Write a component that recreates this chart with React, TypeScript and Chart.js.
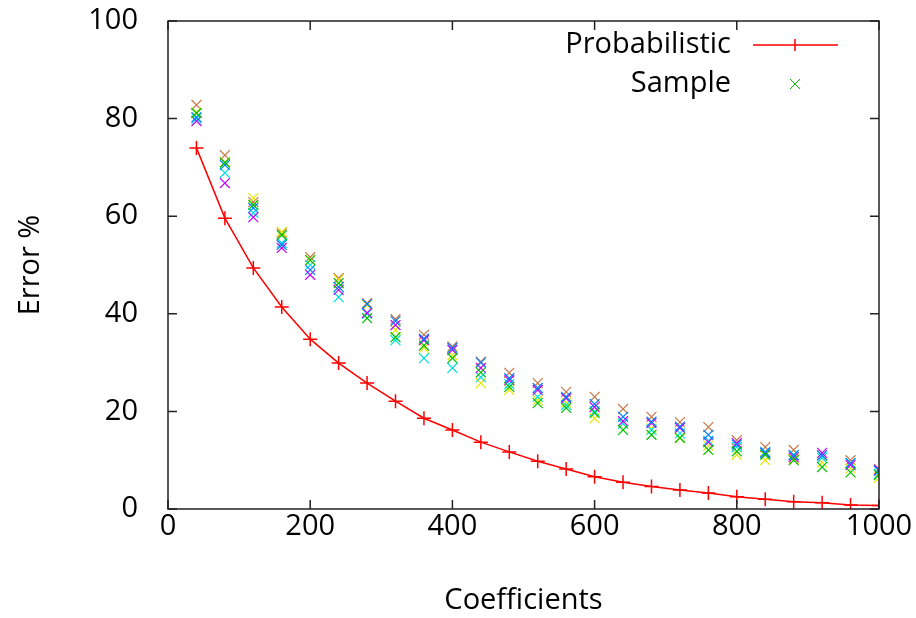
import React, { useEffect, useRef } from "react";
import { Chart, registerables } from "chart.js";

Chart.register(...registerables);

const coefficients = [40, 80, 120, 160, 200, 240, 280, 320, 360, 400, 440, 480, 520, 560, 600, 640, 680, 720, 760, 800, 840, 880, 920, 960, 1000];

const probabilistic = [74.0, 59.6, 49.4, 41.4, 34.8, 29.9, 25.8, 22.1, 18.6, 16.2, 13.7, 11.7, 9.8, 8.2, 6.6, 5.5, 4.6, 3.9, 3.3, 2.5, 2.0, 1.5, 1.3, 0.8, 0.7];

const sampleSienna = [82.8, 72.5, 62.9, 56.5, 51.6, 47.3, 42.2, 38.9, 35.7, 33.3, 30.2, 27.9, 25.8, 24.0, 23.0, 20.5, 18.9, 17.8, 16.8, 14.1, 12.7, 12.1, 11.0, 10.0, 8.2];
const sampleBlue = [80.3, 70.5, 61.7, 54.1, 49.0, 45.5, 42.0, 38.5, 34.9, 33.0, 30.0, 26.8, 24.8, 23.0, 21.5, 18.9, 17.9, 16.9, 15.2, 13.2, 11.5, 11.0, 11.0, 9.4, 7.8];
const sampleMagenta = [79.5, 66.8, 59.8, 53.5, 48.0, 44.9, 40.2, 37.7, 34.6, 32.6, 28.9, 26.4, 24.4, 22.7, 20.9, 18.0, 17.6, 16.6, 13.7, 13.5, 11.5, 10.6, 11.5, 9.0, 8.0];
const sampleYellow = [81.3, 71.1, 63.7, 56.8, 51.0, 47.0, 41.8, 36.7, 33.0, 31.5, 25.8, 24.4, 22.3, 21.8, 18.6, 17.5, 16.5, 14.5, 13.0, 11.1, 10.0, 10.2, 9.5, 8.3, 6.4];
const sampleGreen = [81.1, 71.0, 62.3, 56.1, 51.0, 46.3, 39.1, 35.2, 33.5, 30.9, 28.0, 25.0, 21.7, 20.7, 19.7, 16.2, 15.2, 14.6, 12.1, 11.8, 11.1, 10.0, 8.6, 7.5, 7.0];
const sampleCyan = [80.0, 68.9, 60.7, 54.5, 50.0, 43.4, 40.0, 34.6, 30.9, 28.9, 27.0, 25.6, 23.0, 21.3, 20.0, 17.5, 16.2, 15.5, 14.0, 12.7, 11.7, 11.1, 10.5, 9.4, 7.2];

const xTicks = [0, 200, 400, 600, 800, 1000];
const yTicks = [0, 20, 40, 60, 80, 100];

const FONT = "'Open Sans', sans-serif";
const FSIZE = 29;

const toPoints = (vals: number[]) => coefficients.map((c, i) => ({ x: c, y: vals[i] }));

export default function App() {
  const ref = useRef<HTMLCanvasElement | null>(null);

  useEffect(() => {
    document.body.style.margin = "0";
    const canvas = ref.current;
    if (!canvas) return;

    const sampleSets = [
      { color: "#00c000", data: sampleGreen },
      { color: "#0080ff", data: sampleBlue },
      { color: "#c000ff", data: sampleMagenta },
      { color: "#00e0e0", data: sampleCyan },
      { color: "#e8e800", data: sampleYellow },
      { color: "#c87848", data: sampleSienna },
    ];

    const frame = {
      id: "frame",
      afterDraw(chart: any) {
        const { ctx, chartArea } = chart;
        const { left, right, top, bottom } = chartArea;
        const xs = chart.scales.x;
        const ys = chart.scales.y;
        ctx.save();
        ctx.strokeStyle = "#222";
        ctx.lineWidth = 1.5;
        ctx.strokeRect(left, top, right - left, bottom - top);
        const tl = 9;
        ctx.beginPath();
        xTicks.forEach((v) => {
          const px = xs.getPixelForValue(v);
          ctx.moveTo(px, bottom);
          ctx.lineTo(px, bottom - tl);
          ctx.moveTo(px, top);
          ctx.lineTo(px, top + tl);
        });
        yTicks.forEach((v) => {
          const py = ys.getPixelForValue(v);
          ctx.moveTo(left, py);
          ctx.lineTo(left + tl, py);
          ctx.moveTo(right, py);
          ctx.lineTo(right - tl, py);
        });
        ctx.stroke();

        // gnuplot-style key
        ctx.font = `${FSIZE}px ${FONT}`;
        ctx.fillStyle = "#000";
        ctx.textAlign = "right";
        ctx.textBaseline = "middle";
        const textX = 731;
        const y1 = 45;
        const y2 = 84;
        ctx.fillText("Probabilistic", textX, y1);
        ctx.fillText("Sample", textX, y2);
        ctx.strokeStyle = "#ff0000";
        ctx.lineWidth = 1.5;
        ctx.beginPath();
        ctx.moveTo(753, y1);
        ctx.lineTo(838, y1);
        ctx.moveTo(795, y1 - 6);
        ctx.lineTo(795, y1 + 6);
        ctx.stroke();
        ctx.strokeStyle = "#00c000";
        ctx.lineWidth = 1;
        ctx.beginPath();
        ctx.moveTo(790, y2 - 5);
        ctx.lineTo(800, y2 + 5);
        ctx.moveTo(800, y2 - 5);
        ctx.lineTo(790, y2 + 5);
        ctx.stroke();
        ctx.restore();
      },
    };

    const chart = new Chart(canvas, {
      type: "scatter",
      data: {
        datasets: [
          {
            label: "Probabilistic",
            data: toPoints(probabilistic),
            showLine: true,
            borderColor: "#ff0000",
            backgroundColor: "#ff0000",
            borderWidth: 1.5,
            pointStyle: "cross",
            pointRadius: 7,
            pointBorderWidth: 1.5,
            tension: 0,
          },
          ...sampleSets.map((s) => ({
            label: "Sample",
            data: toPoints(s.data),
            showLine: false,
            borderColor: s.color,
            backgroundColor: s.color,
            pointStyle: "crossRot",
            pointRadius: 7,
            pointBorderWidth: 1.2,
          })),
        ],
      },
      options: {
        responsive: false,
        animation: false,
        layout: { padding: { left: 0, right: 37, top: 21, bottom: 0 } },
        plugins: {
          legend: { display: false },
          tooltip: { enabled: false },
        },
        scales: {
          x: {
            type: "linear",
            min: 0,
            max: 1000,
            afterBuildTicks: (scale: any) => {
              scale.ticks = xTicks.map((v) => ({ value: v }));
            },
            afterFit: (scale: any) => {
              scale.height = 109;
              scale.paddingLeft = 0;
              scale.paddingRight = 0;
            },
            grid: { display: false, drawTicks: false },
            border: { display: false },
            ticks: {
              color: "#000",
              font: { family: FONT, size: FSIZE },
              padding: 0,
              maxRotation: 0,
              callback: (v: any) => String(v),
            },
            title: {
              display: true,
              text: "Coefficients",
              color: "#000",
              font: { family: FONT, size: FSIZE },
              padding: { top: 0, bottom: 0 },
            },
          },
          y: {
            type: "linear",
            min: 0,
            max: 100,
            afterBuildTicks: (scale: any) => {
              scale.ticks = yTicks.map((v) => ({ value: v }));
            },
            afterFit: (scale: any) => {
              scale.width = 168;
              scale.paddingTop = 0;
              scale.paddingBottom = 0;
            },
            grid: { display: false, drawTicks: false },
            border: { display: false },
            ticks: {
              color: "#000",
              font: { family: FONT, size: FSIZE },
              padding: 30,
              callback: (v: any) => String(v),
            },
            title: {
              display: true,
              text: "Error %",
              color: "#000",
              font: { family: FONT, size: FSIZE },
              padding: { top: 13, bottom: 0 },
            },
          },
        },
      },
      plugins: [frame],
    } as any);

    return () => chart.destroy();
  }, []);

  return (
    <div style={{ width: 916, height: 618 }}>
      <canvas ref={ref} width={916} height={618} style={{ display: "block" }} />
    </div>
  );
}
